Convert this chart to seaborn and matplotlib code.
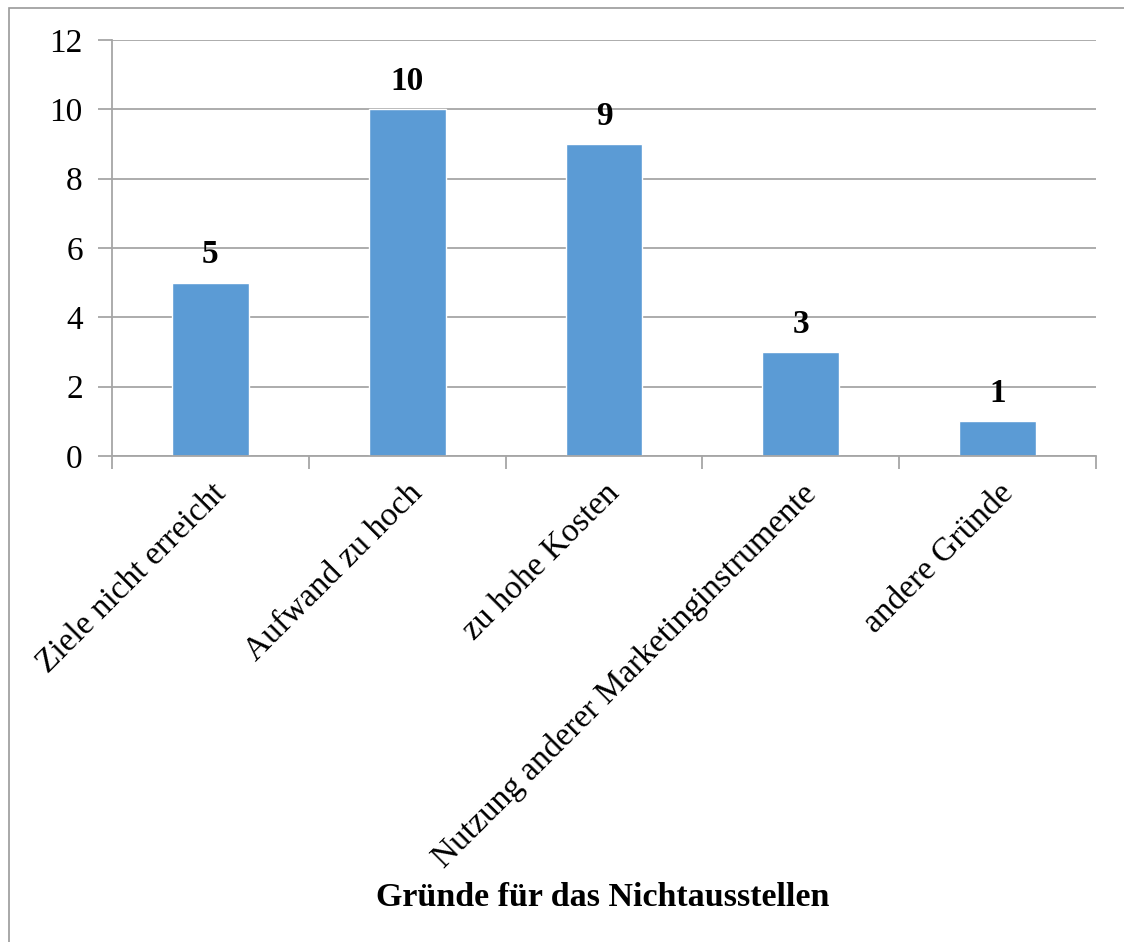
import matplotlib
matplotlib.use("Agg")
import matplotlib.pyplot as plt
from matplotlib.patches import Rectangle
import seaborn as sns
import pandas as pd

categories = ["Ziele nicht erreicht", "Aufwand zu hoch", "zu hohe Kosten",
              "Nutzung anderer Marketinginstrumente", "andere Gründe"]
values = [5, 10, 9, 3, 1]
y_ticks = [0, 2, 4, 6, 8, 10, 12]
x_title = "Gründe für das Nichtausstellen"

sns.set_theme(style="white")
plt.rcParams["font.family"] = ["Liberation Serif", "DejaVu Serif"]
plt.rcParams["text.color"] = "black"

grid_color = "#A6A6A6"
bar_color = "#5B9BD5"

fig = plt.figure(figsize=(11.24, 9.42), dpi=100)
fig.patch.set_facecolor("white")
# outer chart frame (runs past the right and bottom edges)
fig.patches.append(Rectangle((0.008, -0.05), 1.1, 1.041, transform=fig.transFigure,
                             fill=False, edgecolor="#9A9A9A", linewidth=1.2))

ax = fig.add_axes([0.0996, 0.5159, 0.8755, 0.4416])
df = pd.DataFrame({"cat": categories, "val": values})
sns.barplot(data=df, x="cat", y="val", color=bar_color, saturation=1,
            width=0.39, ax=ax)

ax.set_ylim(0, 12)
ax.set_xlim(-0.5, len(categories) - 0.5)
ax.set_yticks(y_ticks)
ax.set_yticklabels([str(t) for t in y_ticks], fontsize=24)
ax.yaxis.grid(True, color=grid_color, linewidth=1.3)
ax.set_axisbelow(True)

for side in ["top", "right"]:
    ax.spines[side].set_visible(False)
for side in ["left", "bottom"]:
    ax.spines[side].set_color(grid_color)
    ax.spines[side].set_linewidth(1.3)

ax.tick_params(axis="y", which="both", length=10, width=1.3, color=grid_color,
               pad=11, left=True, labelcolor="black")

# category boundary ticks on the x-axis
ax.set_xticks([i - 0.5 for i in range(len(categories) + 1)], minor=True)
ax.tick_params(axis="x", which="minor", length=9, width=1.3, color=grid_color, bottom=True)
ax.tick_params(axis="x", which="major", length=0, pad=16)
ax.set_xticks(range(len(categories)))
ax.set_xticklabels(categories, rotation=45, ha="right", rotation_mode="anchor",
                   fontsize=24, color="black")

for i, v in enumerate(values):
    ax.annotate(str(v), (i, v), xytext=(0, 9), textcoords="offset points",
                ha="center", va="bottom", fontsize=24, fontweight="bold",
                color="black")

ax.set_ylabel("")
ax.set_xlabel("")
fig.text(0.5365, 0.047, x_title, ha="center", va="center",
         fontsize=24.5, fontweight="bold", color="black")

fig.savefig("out.png", dpi=100)
